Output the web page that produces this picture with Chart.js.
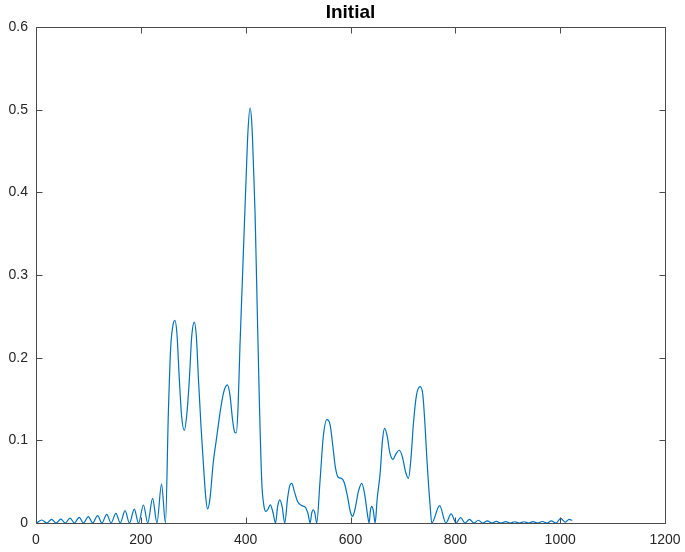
<!DOCTYPE html>
<html>
<head>
<meta charset="utf-8">
<script src="https://cdn.jsdelivr.net/npm/chart.js@4/dist/chart.umd.min.js"></script>
<style>
html,body{margin:0;padding:0;background:#fff;}
canvas{display:block;}
</style>
</head>
<body>
<canvas id="c" width="685" height="552"></canvas>
<script>
// Title and axis ticks
const titleText = "Initial";
const xTickValues = [0, 200, 400, 600, 800, 1000, 1200];
const yTickValues = [0, 0.1, 0.2, 0.3, 0.4, 0.5, 0.6];

// Leading side lobes (x, y)
const leadX = [1, 11, 20.7, 29.8, 38.2, 47.5, 55.7, 65, 73.2, 82.5, 90.7, 99.8, 108.2, 117.5, 125.7, 135, 143.2, 152.5, 160.7, 170, 178.2, 187.5, 195.7, 205, 213.2, 222.5, 230.7, 239.5];
const leadY = [0, 0.0036, 0, 0.0044, 0, 0.0048, 0, 0.006, 0, 0.0069, 0, 0.0077, 0, 0.0089, 0, 0.0105, 0, 0.0117, 0, 0.0149, 0, 0.0169, 0, 0.0218, 0, 0.0298, 0, 0.047];

// Main band (x, y)
const mainX = [247, 252.5, 257, 261, 265, 269, 273.5, 278, 283, 287.5, 292.5, 297, 302, 306, 310, 315, 319.5, 324, 327.5, 332, 338, 345, 351, 358, 365, 370, 375, 379, 382, 385.5, 389, 393.5, 397.5, 401, 404.5, 408.5, 412, 415, 418, 422.3, 426, 430.7, 434.5, 438.5, 442, 447, 452, 457, 461, 465, 469.5, 474.5, 480, 484, 488, 493, 499, 507, 514, 519, 523, 526, 529, 532, 535.5, 542, 548, 555, 561, 566, 571, 577, 583, 588, 594, 600, 604, 609, 615, 621.5, 627, 632, 635.5, 638, 640.5, 643.5, 647, 651, 656.5, 661, 665, 670, 675, 680.7, 687, 693, 699, 705, 710.5, 715.6, 720, 726, 733, 738, 742, 745.5, 749, 752];
const mainY = [0, 0.133, 0.213, 0.238, 0.245, 0.228, 0.173, 0.128, 0.112, 0.13, 0.173, 0.225, 0.243, 0.225, 0.173, 0.115, 0.07, 0.03, 0.017, 0.03, 0.072, 0.105, 0.133, 0.158, 0.167, 0.155, 0.125, 0.11, 0.109, 0.14, 0.212, 0.29, 0.36, 0.42, 0.475, 0.502, 0.48, 0.43, 0.373, 0.252, 0.151, 0.05, 0.022, 0.014, 0.016, 0.022, 0.013, 0, 0.02, 0.028, 0.02, 0, 0.03, 0.045, 0.048, 0.038, 0.026, 0.021, 0.019, 0.011, 0, 0.012, 0.016, 0.012, 0, 0.052, 0.104, 0.125, 0.119, 0.095, 0.068, 0.055, 0.054, 0.049, 0.033, 0.013, 0.008, 0.018, 0.038, 0.048, 0.035, 0.012, 0, 0.015, 0.02, 0.015, 0, 0.03, 0.06, 0.1, 0.1145, 0.105, 0.085, 0.077, 0.084, 0.088, 0.08, 0.062, 0.054, 0.08, 0.12, 0.155, 0.165, 0.155, 0.12, 0.08, 0.045, 0.02];

// Trailing side lobes (x, y)
const tailX = [755, 770, 782, 792, 801.5, 810, 818.5, 827, 835.5, 844, 852, 861, 870, 878, 887, 896, 905, 913, 922, 931, 940, 948, 957, 966, 975, 983, 992, 1001, 1010, 1017, 1023];
const tailY = [0, 0.021, 0, 0.011, 0, 0.0065, 0, 0.0045, 0, 0.0033, 0, 0.0025, 0, 0.002, 0, 0.0017, 0, 0.0015, 0, 0.0015, 0, 0.0016, 0, 0.0018, 0, 0.0025, 0, 0.0055, 0.001, 0.0045, 0.003];

const allX = leadX.concat(mainX, tailX);
const allY = leadY.concat(mainY, tailY);
const points = allX.map((x, i) => ({x: x, y: allY[i]}));

const FONT = "'Liberation Sans', Arial, Helvetica, sans-serif";
const AXIS_COLOR = '#4a4a4a';

const boxPlugin = {
  id: 'matlabBox',
  afterDraw(chart) {
    const ctx = chart.ctx;
    const a = chart.chartArea;
    const xs = chart.scales.x, ys = chart.scales.y;
    const L = Math.round(a.left) + 0.5, R = Math.round(a.right) + 0.5;
    const T = Math.round(a.top) + 0.5, B = Math.round(a.bottom) + 0.5;
    const tl = 6;
    ctx.save();
    ctx.strokeStyle = AXIS_COLOR;
    ctx.lineWidth = 1;
    ctx.beginPath();
    ctx.rect(L, T, R - L, B - T);
    xTickValues.forEach(v => {
      const px = Math.round(xs.getPixelForValue(v)) + 0.5;
      ctx.moveTo(px, B); ctx.lineTo(px, B - tl);
      ctx.moveTo(px, T); ctx.lineTo(px, T + tl);
    });
    yTickValues.forEach(v => {
      const py = Math.round(ys.getPixelForValue(v)) + 0.5;
      ctx.moveTo(L, py); ctx.lineTo(L + tl, py);
      ctx.moveTo(R, py); ctx.lineTo(R - tl, py);
    });
    ctx.stroke();
    // title
    ctx.fillStyle = '#000';
    ctx.font = "bold 19px " + FONT;
    ctx.textAlign = 'center';
    ctx.textBaseline = 'alphabetic';
    ctx.fillText(titleText, (a.left + a.right) / 2, 18);
    ctx.restore();
  }
};

new Chart(document.getElementById('c'), {
  type: 'line',
  data: {
    datasets: [{
      data: points,
      borderColor: '#0072BD',
      borderWidth: 1.2,
      pointRadius: 0,
      fill: false,
      cubicInterpolationMode: 'monotone'
    }]
  },
  options: {
    responsive: false,
    animation: false,
    layout: {padding: {top: 27, right: 20, left: 0, bottom: 0}},
    plugins: {legend: {display: false}, tooltip: {enabled: false}, title: {display: false}},
    scales: {
      x: {
        type: 'linear',
        min: 0, max: 1200,
        afterFit(s) { s.height = 29; s.paddingLeft = 0; s.paddingRight = 0; },
        afterBuildTicks(s) { s.ticks = xTickValues.map(v => ({value: v})); },
        grid: {display: false, drawTicks: false},
        border: {display: false},
        ticks: {color: '#262626', font: {family: FONT, size: 14}, padding: 9, maxRotation: 0, autoSkip: false,
          callback: v => String(v)}
      },
      y: {
        type: 'linear',
        min: 0, max: 0.6,
        afterFit(s) { s.width = 36; s.paddingTop = 0; s.paddingBottom = 0; },
        afterBuildTicks(s) { s.ticks = yTickValues.map(v => ({value: v})); },
        grid: {display: false, drawTicks: false},
        border: {display: false},
        ticks: {color: '#262626', font: {family: FONT, size: 14}, padding: 8,
          callback: v => String(+v.toFixed(1))}
      }
    }
  },
  plugins: [boxPlugin]
});
</script>
</body>
</html>
